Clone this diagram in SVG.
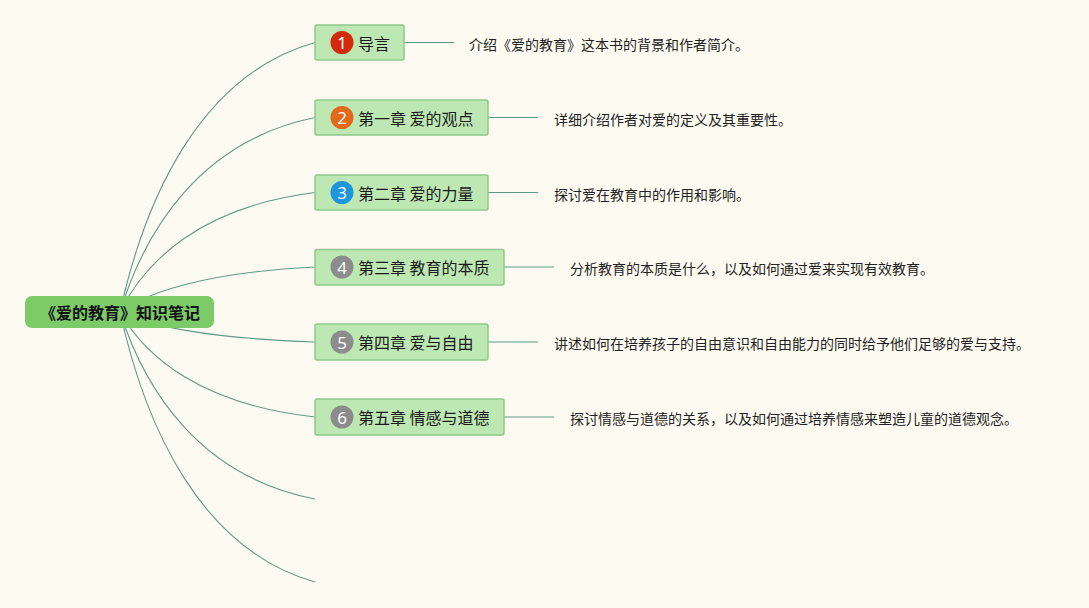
<svg xmlns="http://www.w3.org/2000/svg" width="1089" height="608" viewBox="0 0 1089 608">
<style>
.conn{fill:none;stroke:#5f9a86;stroke-width:1.1}
.box{fill:#bde8b3;stroke:#8fc78a;stroke-width:1.5}
.root{fill:#7dca69}
.rt{font-family:"Noto Sans CJK SC","Noto Sans",sans-serif;font-size:16px;font-weight:bold;fill:#111}
.nt{font-family:"Noto Sans CJK SC","Noto Sans",sans-serif;font-size:16px;fill:#1a1a1a}
.bn{font-family:"Noto Sans","Liberation Sans",sans-serif;font-size:17px;fill:#fff;text-anchor:middle}
.dt{font-family:"Noto Sans CJK SC","Noto Sans",sans-serif;font-size:14px;fill:#222}
</style>
<rect width="1089" height="608" fill="#fdfbf1"/>
<g id="connectors">
<path class="conn" d="M120,312 C145,198.8 200,74.8 315,42.5"/>
<path class="conn" d="M120,312 C145,230.3 200,140.8 315,117.5"/>
<path class="conn" d="M120,312 C145,261.8 200,206.8 315,192.5"/>
<path class="conn" d="M120,312 C145,293.1 205,272.4 315,267"/>
<path class="conn" d="M120,312 C145,324.6 205,338.4 315,342"/>
<path class="conn" d="M120,312 C145,356.1 200,404.4 315,417"/>
<path class="conn" d="M120,312 C145,390.5 200,476.6 315,499"/>
<path class="conn" d="M120,312 C145,425.4 200,549.6 315,582"/>
<path class="conn" d="M404,42.5 H454"/>
<path class="conn" d="M488,117.5 H538"/>
<path class="conn" d="M488,192.5 H538"/>
<path class="conn" d="M504,267 H554"/>
<path class="conn" d="M488,342 H538"/>
<path class="conn" d="M504,417 H554"/>
</g>
<g id="root">
<rect class="root" x="25" y="296" width="189" height="32" rx="7"/>
<text class="rt" x="120" y="312" text-anchor="middle" dominant-baseline="central">《爱的教育》知识笔记</text>
</g>
<g id="node1">
<rect class="box" x="315" y="25" width="89" height="35" rx="2"/>
<circle cx="342" cy="42.5" r="11.5" fill="#d5290e"/>
<text class="bn" x="342" y="42.5" dominant-baseline="central">1</text>
<text class="nt" x="358" y="42.5" dominant-baseline="central">导言</text>
</g>
<g id="node2">
<rect class="box" x="315" y="100" width="173" height="35" rx="2"/>
<circle cx="342" cy="117.5" r="11.5" fill="#e2681b"/>
<text class="bn" x="342" y="117.5" dominant-baseline="central">2</text>
<text class="nt" x="358" y="117.5" dominant-baseline="central">第一章 爱的观点</text>
</g>
<g id="node3">
<rect class="box" x="315" y="175" width="173" height="35" rx="2"/>
<circle cx="342" cy="192.5" r="11.5" fill="#1e96dc"/>
<text class="bn" x="342" y="192.5" dominant-baseline="central">3</text>
<text class="nt" x="358" y="192.5" dominant-baseline="central">第二章 爱的力量</text>
</g>
<g id="node4">
<rect class="box" x="315" y="249.5" width="189" height="35.5" rx="2"/>
<circle cx="342" cy="267" r="11.5" fill="#8c8c8c"/>
<text class="bn" x="342" y="267" dominant-baseline="central">4</text>
<text class="nt" x="358" y="267" dominant-baseline="central">第三章 教育的本质</text>
</g>
<g id="node5">
<rect class="box" x="315" y="324" width="173" height="36" rx="2"/>
<circle cx="342" cy="342" r="11.5" fill="#8c8c8c"/>
<text class="bn" x="342" y="342" dominant-baseline="central">5</text>
<text class="nt" x="358" y="342" dominant-baseline="central">第四章 爱与自由</text>
</g>
<g id="node6">
<rect class="box" x="315" y="399" width="189" height="36" rx="2"/>
<circle cx="342" cy="417" r="11.5" fill="#8c8c8c"/>
<text class="bn" x="342" y="417" dominant-baseline="central">6</text>
<text class="nt" x="358" y="417" dominant-baseline="central">第五章 情感与道德</text>
</g>
<g id="desc1"><text class="dt" x="469" y="43.5" dominant-baseline="central">介绍《爱的教育》这本书的背景和作者简介。</text></g>
<g id="desc2"><text class="dt" x="554" y="118.5" dominant-baseline="central">详细介绍作者对爱的定义及其重要性。</text></g>
<g id="desc3"><text class="dt" x="554" y="193.5" dominant-baseline="central">探讨爱在教育中的作用和影响。</text></g>
<g id="desc4"><text class="dt" x="570" y="268" dominant-baseline="central">分析教育的本质是什么，以及如何通过爱来实现有效教育。</text></g>
<g id="desc5"><text class="dt" x="554" y="343" dominant-baseline="central">讲述如何在培养孩子的自由意识和自由能力的同时给予他们足够的爱与支持。</text></g>
<g id="desc6"><text class="dt" x="570" y="418" dominant-baseline="central">探讨情感与道德的关系，以及如何通过培养情感来塑造儿童的道德观念。</text></g>
</svg>
